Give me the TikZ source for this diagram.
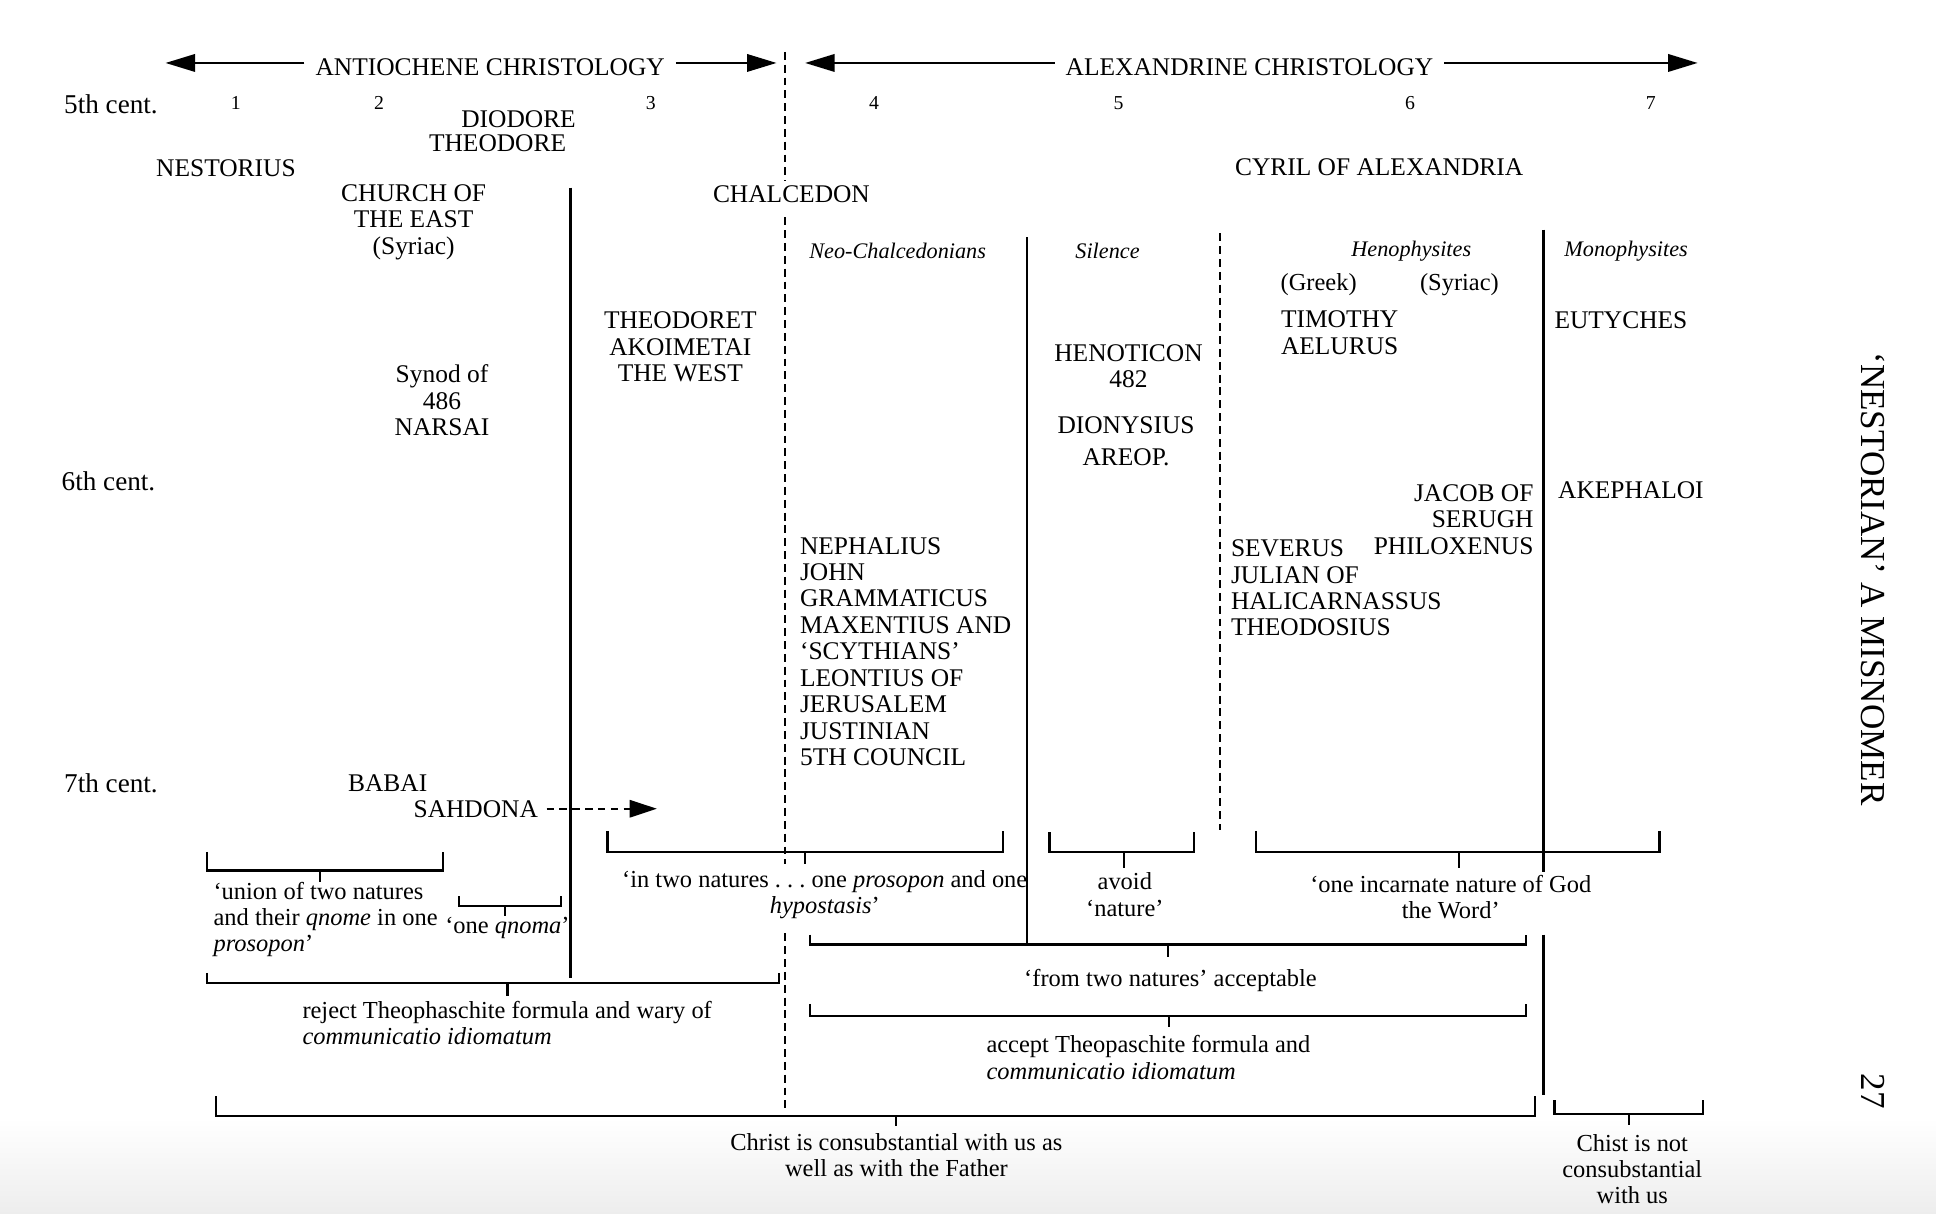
\documentclass[tikz,border=0pt]{standalone}
\usepackage{fontspec}
\setmainfont{Liberation Serif}
\usetikzlibrary{arrows.meta}
\newcommand\bracketU[6]{%
  \draw[brk] (#1,#3) -- (#1,#4) -- (#2,#4) -- (#2,#3);
  \draw[brk] (#5,#4) -- (#5,#6);}
\begin{document}
\begin{tikzpicture}[x=0.5pt,y=-0.5pt,
  every node/.style={inner sep=0pt, outer sep=0pt},
  caps/.style={font=\fontsize{10.3}{10.7}\selectfont},
  lab/.style={font=\fontsize{9.9}{10.6}\selectfont},
  hdr/.style={font=\fontsize{9}{10}\selectfont\itshape},
  num/.style={font=\fontsize{8}{9}\selectfont},
  cent/.style={font=\fontsize{11}{12}\selectfont},
  side/.style={font=\fontsize{14.2}{15}\selectfont, rotate=-90},
  sep/.style={line width=0.9pt},
  dsep/.style={line width=0.85pt, dash pattern=on 3.2pt off 2pt},
  brk/.style={line width=0.85pt},
  bigarrow/.style={line width=1.1pt, -{Triangle[length=12pt,width=7pt]}},
  dasharrow/.style={line width=0.9pt, dash pattern=on 3pt off 2.2pt, -{Triangle[length=11pt,width=7pt]}},
]
\useasboundingbox (0,0) rectangle (1568,983);
\shade[top color=white, bottom color=black!7] (0,905) rectangle (1568,983);

% separators
\draw[sep] (462,152) -- (462,792);
\draw[sep] (832,192) -- (832,765);
\draw[sep] (1250,186) -- (1250,706);
\draw[sep] (1250,757) -- (1250,887);
\draw[dsep] (636,42) -- (636,147);
\draw[dsep] (636,176) -- (636,700);
\draw[dsep] (636,756) -- (636,899);
\draw[dsep] (988,189) -- (988,672);

% header arrows
\node[caps, inner xsep=4.5pt, anchor=base] (antio) at (397,61) {ANTIOCHENE CHRISTOLOGY};
\node[caps, inner xsep=4.5pt, anchor=base] (alex) at (1012,61) {ALEXANDRINE CHRISTOLOGY};
\coordinate (aL) at (134,51);
\coordinate (aR) at (629,51);
\coordinate (bL) at (652,51);
\coordinate (bR) at (1375,51);
\draw[bigarrow] (antio.west |- aL) -- (aL);
\draw[bigarrow] (antio.east |- aR) -- (aR);
\draw[bigarrow] (alex.west |- bL) -- (bL);
\draw[bigarrow] (alex.east |- bR) -- (bR);

% column numbers
\foreach \n/\x in {1/191,2/307,3/527,4/708,5/906,6/1142,7/1337}
  \node[num, anchor=base] (num\n) at (\x,89) {\n};

% centuries
\node[cent, anchor=base west] (c5) at (52,92) {5th cent.};
\node[cent, anchor=base west] (c6) at (50,397) {6th cent.};
\node[cent, anchor=base west] (c7) at (52,642) {7th cent.};

% names (multi-line nodes: base = baseline of last line)
\node[caps, anchor=base] (diodore) at (420,103) {DIODORE};
\node[caps, anchor=base] (theodore) at (403,123) {THEODORE};
\node[caps, anchor=base] (nestorius) at (183,143) {NESTORIUS};
\node[caps, anchor=base, align=center] (church) at (335,206) {CHURCH OF\\THE EAST\\(Syriac)};
\node[caps, anchor=base] (chalcedon) at (641,164) {CHALCEDON};
\node[caps, anchor=base] (cyril) at (1117,142) {CYRIL OF ALEXANDRIA};
\node[hdr, anchor=base] (neo) at (727,209) {Neo-Chalcedonians};
\node[hdr, anchor=base] (silence) at (897,209) {Silence};
\node[hdr, anchor=base] (heno) at (1143,208) {Henophysites};
\node[hdr, anchor=base] (mono) at (1317,208) {Monophysites};
\node[lab, anchor=base] (greek) at (1068,235) {(Greek)};
\node[lab, anchor=base] (syriac) at (1182,235) {(Syriac)};
\node[caps, anchor=base, align=center] (theodoret) at (551,309) {THEODORET\\AKOIMETAI\\THE WEST};
\node[caps, anchor=base, align=center] (timothy) at (1085,287) {TIMOTHY\\AELURUS};
\node[caps, anchor=base west] (eutyches) at (1259,266) {EUTYCHES};
\node[caps, anchor=base, align=center] (henoticon) at (914,314) {HENOTICON\\482};
\node[caps, anchor=base, align=center] (synod) at (358,353) {Synod of\\486\\NARSAI};
\node[caps, anchor=base, align=center] (dionysius) at (912,377) {DIONYSIUS\\[2.4pt]AREOP.};
\node[caps, anchor=base east, align=right] (jacob) at (1242,449) {JACOB OF\\SERUGH\\PHILOXENUS};
\node[caps, anchor=base west] (akephaloi) at (1262,404) {AKEPHALOI};
\node[caps, anchor=base west, align=left] (severus) at (997,515) {SEVERUS\\JULIAN OF\\HALICARNASSUS\\THEODOSIUS};
\node[caps, anchor=base west, align=left] (nephalius) at (648,620) {NEPHALIUS\\JOHN\\GRAMMATICUS\\MAXENTIUS AND\\‘SCYTHIANS’\\LEONTIUS OF\\JERUSALEM\\JUSTINIAN\\5TH COUNCIL};
\node[caps, anchor=base] (babai) at (314,641) {BABAI};
\node[caps, anchor=base west] (sahdona) at (335,662) {SAHDONA};
\coordinate (sS) at ([xshift=3.5pt]sahdona.east);
\coordinate (sT) at (532,655);
\draw[dasharrow] (sS |- sT) -- (sT);

% brackets
\bracketU{168}{359}{690}{705}{259}{714}
\bracketU{372}{454}{726}{734}{409}{742}
\bracketU{492}{812}{673}{690}{652}{700}
\bracketU{850}{967}{674}{690}{910}{703}
\bracketU{1017}{1344}{673}{690}{1182}{703}
\bracketU{656}{1236}{757}{765}{946}{775}
\bracketU{168}{631}{788}{796}{411}{807}
\bracketU{656}{1236}{813}{823}{947}{832}
\bracketU{175}{1243}{888}{904}{726}{912}
\bracketU{1259}{1379}{891}{902}{1319}{911}

% bracket labels
\node[lab, anchor=base west, align=left] (union) at (173,771) {‘union of two natures\\and their \emph{qnome} in one\\\emph{prosopon}’};
\node[lab, anchor=base] (qnoma) at (411,756) {‘one \emph{qnoma}’};
\node[lab, anchor=base, align=center] (twonat) at (668,740) {‘in two natures .\ .\ .\ one \emph{prosopon} and one\\\emph{hypostasis}’};
\node[lab, anchor=base, align=center] (avoid) at (911,742) {avoid\\‘nature’};
\node[lab, anchor=base, align=center] (incarn) at (1175,744) {‘one incarnate nature of God\\the Word’};
\node[lab, anchor=base] (fromtwo) at (948,799) {‘from two natures’ acceptable};
\node[lab, anchor=base west, align=left] (reject) at (245,846) {reject Theophaschite formula and wary of\\\emph{communicatio idiomatum}};
\node[lab, anchor=base west, align=left] (accept) at (799,874) {accept Theopaschite formula and\\\emph{communicatio idiomatum}};
\node[lab, anchor=base, align=center] (consub) at (726,953) {Christ is consubstantial with us as\\well as with the Father};
\node[lab, anchor=base, align=center] (notcon) at (1322,975) {Chist is not\\consubstantial\\with us};

% running head
\node[side, anchor=center] (head) at (1517,469) {‘NESTORIAN’ A MISNOMER};
\node[side, anchor=center] (page) at (1517,884) {27};
\end{tikzpicture}
\end{document}
